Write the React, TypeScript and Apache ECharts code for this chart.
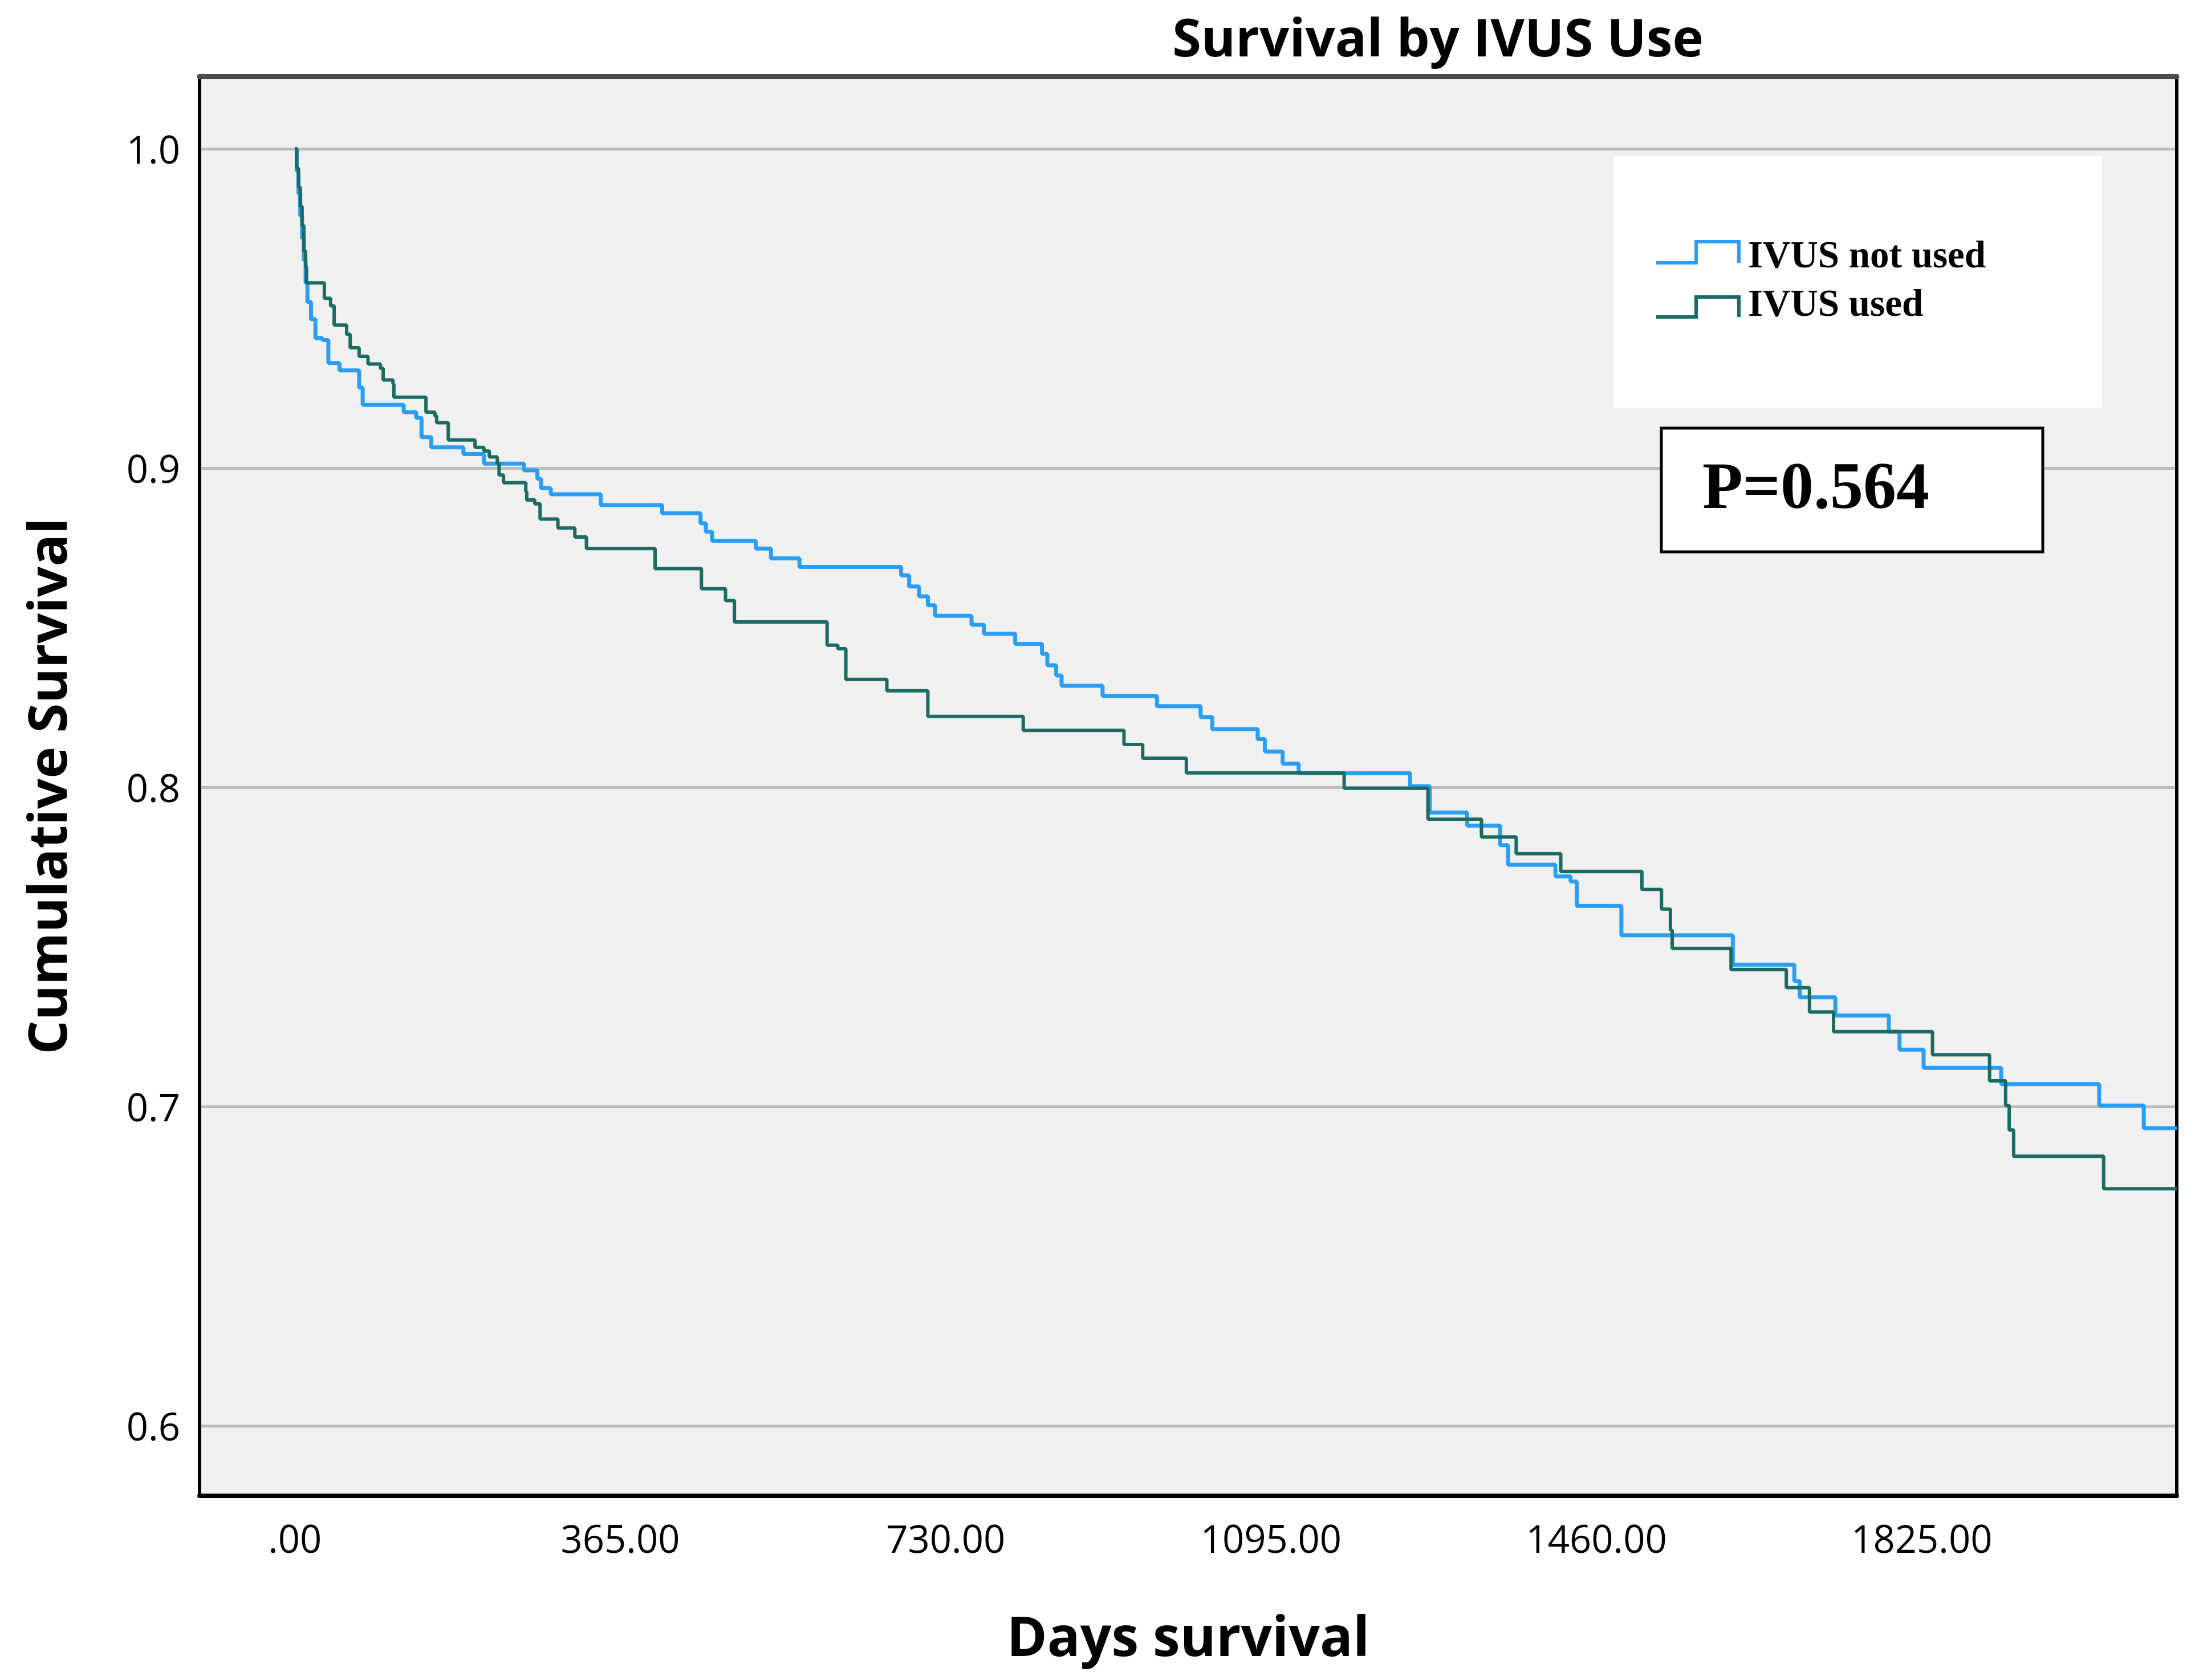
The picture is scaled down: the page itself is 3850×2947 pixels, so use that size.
import React, { useEffect, useRef } from 'react';
import * as echarts from 'echarts';

// ---- Data ----
const chartTitle = 'Survival by IVUS Use';
const xAxisTitle = 'Days survival';
const yAxisTitle = 'Cumulative Survival';
const seriesNames = ['IVUS not used', 'IVUS used'];
const pValueText = 'P=0.564';

const xTicks = [0, 365, 730, 1095, 1460, 1825];
const yTicks = [0.6, 0.7, 0.8, 0.9, 1.0];

// IVUS not used (light blue)
const notUsedDays = [0, 2, 4, 6, 8, 10, 12, 14, 18, 23, 31, 37.5, 50, 72, 76, 122, 136, 142, 153, 189, 212, 257, 272, 276, 287, 343, 412, 455, 461, 468, 517, 534, 566, 680, 689, 700, 710, 718, 759, 773, 808, 838, 844, 854, 860, 906, 967, 1016, 1029, 1080, 1088, 1108, 1126, 1251, 1273, 1315, 1352, 1361, 1414, 1431, 1438, 1488, 1613, 1682, 1688, 1728, 1788, 1800, 1827, 1914, 2024, 2074, 2111];
const notUsedSurv = [1, 0.993, 0.986, 0.979, 0.972, 0.965, 0.958, 0.952, 0.9466, 0.9407, 0.9401, 0.9329, 0.9306, 0.9252, 0.9198, 0.9175, 0.9157, 0.9097, 0.9065, 0.9044, 0.9014, 0.8993, 0.8966, 0.8937, 0.8918, 0.8884, 0.8858, 0.8827, 0.88, 0.8772, 0.8748, 0.8717, 0.869, 0.8664, 0.8629, 0.8598, 0.857, 0.8537, 0.8509, 0.8481, 0.8449, 0.8418, 0.8382, 0.835, 0.8318, 0.8286, 0.8254, 0.822, 0.8182, 0.8151, 0.8112, 0.8074, 0.8044, 0.8003, 0.7921, 0.788, 0.7818, 0.7757, 0.7721, 0.7705, 0.7628, 0.7536, 0.7444, 0.7393, 0.7342, 0.7285, 0.7234, 0.7178, 0.7121, 0.707, 0.7003, 0.6932, 0.6932];

// IVUS used (dark teal)
const usedDays = [0, 2, 4, 6, 8, 10, 12, 13, 33, 40, 44, 58, 62, 72, 82, 96, 99, 110, 111, 147, 157, 159, 172, 202, 212, 218, 227, 229, 234, 259, 260, 269, 275, 295, 314, 327, 404, 456, 483, 493, 597, 609, 618, 664, 710, 817, 930, 951, 1000, 1177, 1271, 1331, 1370, 1420, 1511, 1533, 1543, 1545, 1611, 1673, 1699, 1726, 1837, 1901, 1919, 1923, 1928, 2029, 2111];
const usedSurv = [1, 0.994, 0.988, 0.982, 0.976, 0.968, 0.963, 0.958, 0.9532, 0.9508, 0.9448, 0.9419, 0.9377, 0.935, 0.9326, 0.9312, 0.9276, 0.9264, 0.9222, 0.9175, 0.9163, 0.9142, 0.9088, 0.9065, 0.9053, 0.9035, 0.9014, 0.8978, 0.8954, 0.8926, 0.89, 0.8888, 0.884, 0.8812, 0.8784, 0.8748, 0.8685, 0.8622, 0.8585, 0.8518, 0.8445, 0.8434, 0.8338, 0.8302, 0.8222, 0.8178, 0.8134, 0.8091, 0.8045, 0.7997, 0.79, 0.7844, 0.7792, 0.7736, 0.768, 0.7618, 0.7552, 0.7495, 0.7429, 0.7372, 0.7296, 0.7234, 0.7162, 0.708, 0.7003, 0.6926, 0.6844, 0.6742, 0.6742];

const seriesColors = ['#2a9ef4', '#1c6b62'];
const seriesWidths = [7, 6];

const zip = (xs: number[], ys: number[]) => xs.map((x, i) => [x, ys[i]]);

export default function App() {
  const ref = useRef<HTMLDivElement>(null);

  useEffect(() => {
    if (!ref.current) return;
    const chart = echarts.init(ref.current, undefined, { renderer: 'svg' });
    const sansFont = '"Open Sans", "DejaVu Sans", sans-serif';
    const serifFont = '"Liberation Serif", "DejaVu Serif", serif';

    const legendRows = seriesNames.map((name, i) => {
      const yLow = 461 + i * 95;
      const yHigh = 424 + i * 97;
      return [
        {
          type: 'polyline',
          z: 101,
          shape: { points: [[2905, yLow], [2975, yLow], [2975, yHigh], [3050, yHigh], [3050, yLow]] },
          style: { stroke: seriesColors[i], lineWidth: 6, fill: null },
        },
        {
          type: 'text',
          z: 101,
          x: 3066,
          y: 446 + i * 85,
          style: {
            text: name,
            font: `bold 67px ${serifFont}`,
            fill: '#000',
            align: 'left',
            verticalAlign: 'middle',
            textAlign: 'left',
            textVerticalAlign: 'middle',
          },
        },
      ];
    }).flat();

    const option: any = {
      animation: false,
      backgroundColor: '#ffffff',
      grid: {
        left: 350,
        right: 32,
        top: 134,
        bottom: 323,
        show: true,
        backgroundColor: '#f0f0f0',
        borderWidth: 0,
        containLabel: false,
        outerBoundsMode: 'none',
      },
      xAxis: [
        {
          type: 'value',
          min: -107,
          max: 2111,
          position: 'bottom',
          name: xAxisTitle,
          nameLocation: 'middle',
          nameGap: 195,
          nameTextStyle: { fontSize: 96, fontWeight: 'bold', fontFamily: sansFont, color: '#000', lineHeight: 96 },
          axisLine: { show: true, onZero: false, lineStyle: { color: '#000', width: 8 } },
          axisTick: { show: false, customValues: xTicks },
          splitLine: { show: false },
          axisLabel: {
            customValues: xTicks,
            margin: 40,
            fontSize: 67,
            lineHeight: 67,
            color: '#000',
            fontFamily: sansFont,
            formatter: (v: number) => (v === 0 ? '.00' : v.toFixed(2)),
          },
        },
        {
          type: 'value',
          min: -107,
          max: 2111,
          position: 'top',
          axisLine: { show: true, onZero: false, lineStyle: { color: '#4a4a4a', width: 9 } },
          axisTick: { show: false },
          splitLine: { show: false },
          axisLabel: { show: false },
        },
      ],
      yAxis: [
        {
          type: 'value',
          min: 0.578,
          max: 1.0227,
          position: 'left',
          name: yAxisTitle,
          nameLocation: 'middle',
          nameRotate: 90,
          nameGap: 222,
          nameTextStyle: { fontSize: 94, fontWeight: 'bold', fontFamily: sansFont, color: '#000', lineHeight: 94 },
          axisLine: { show: true, onZero: false, lineStyle: { color: '#000', width: 6 } },
          axisTick: { show: false, customValues: yTicks },
          splitLine: { show: true, lineStyle: { color: '#bcbcbc', width: 5 } },
          axisLabel: {
            customValues: yTicks,
            margin: 34,
            fontSize: 67,
            lineHeight: 67,
            color: '#000',
            fontFamily: sansFont,
            formatter: (v: number) => (Math.abs(v * 10 - Math.round(v * 10)) > 1e-6 ? '' : v.toFixed(1)),
          },
        },
        {
          type: 'value',
          min: 0.578,
          max: 1.0227,
          position: 'right',
          axisLine: { show: true, onZero: false, lineStyle: { color: '#000', width: 6 } },
          axisTick: { show: false },
          splitLine: { show: false },
          axisLabel: { show: false },
        },
      ],
      series: [
        {
          name: seriesNames[0],
          type: 'line',
          step: 'end',
          xAxisIndex: 0,
          yAxisIndex: 0,
          data: zip(notUsedDays, notUsedSurv),
          showSymbol: false,
          symbol: 'none',
          clip: true,
          z: 3,
          lineStyle: { color: seriesColors[0], width: seriesWidths[0] },
          itemStyle: { color: seriesColors[0] },
        },
        {
          name: seriesNames[1],
          type: 'line',
          step: 'end',
          xAxisIndex: 0,
          yAxisIndex: 0,
          data: zip(usedDays, usedSurv),
          showSymbol: false,
          symbol: 'none',
          clip: true,
          z: 4,
          lineStyle: { color: seriesColors[1], width: seriesWidths[1] },
          itemStyle: { color: seriesColors[1] },
        },
      ],
      graphic: [
        {
          type: 'text',
          z: 101,
          x: 2522,
          y: 63,
          style: {
            text: chartTitle,
            font: `bold 92px ${sansFont}`,
            fill: '#000',
            align: 'center',
            verticalAlign: 'middle',
            textAlign: 'center',
            textVerticalAlign: 'middle',
          },
        },
        {
          type: 'rect',
          z: 100,
          shape: { x: 2830, y: 274, width: 857, height: 441 },
          style: { fill: '#ffffff' },
        },
        ...legendRows,
        {
          type: 'rect',
          z: 100,
          shape: { x: 2914, y: 751, width: 669, height: 217 },
          style: { fill: '#ffffff', stroke: '#000', lineWidth: 5 },
        },
        {
          type: 'text',
          z: 101,
          x: 2986,
          y: 852,
          style: {
            text: pValueText,
            font: `bold 116px ${serifFont}`,
            fill: '#000',
            align: 'left',
            verticalAlign: 'middle',
            textAlign: 'left',
            textVerticalAlign: 'middle',
          },
        },
      ],
    };

    chart.setOption(option);
    return () => chart.dispose();
  }, []);

  return (
    <div
      ref={ref}
      style={{ position: 'absolute', left: 0, top: 0, width: 3850, height: 2947, background: '#fff' }}
    />
  );
}
